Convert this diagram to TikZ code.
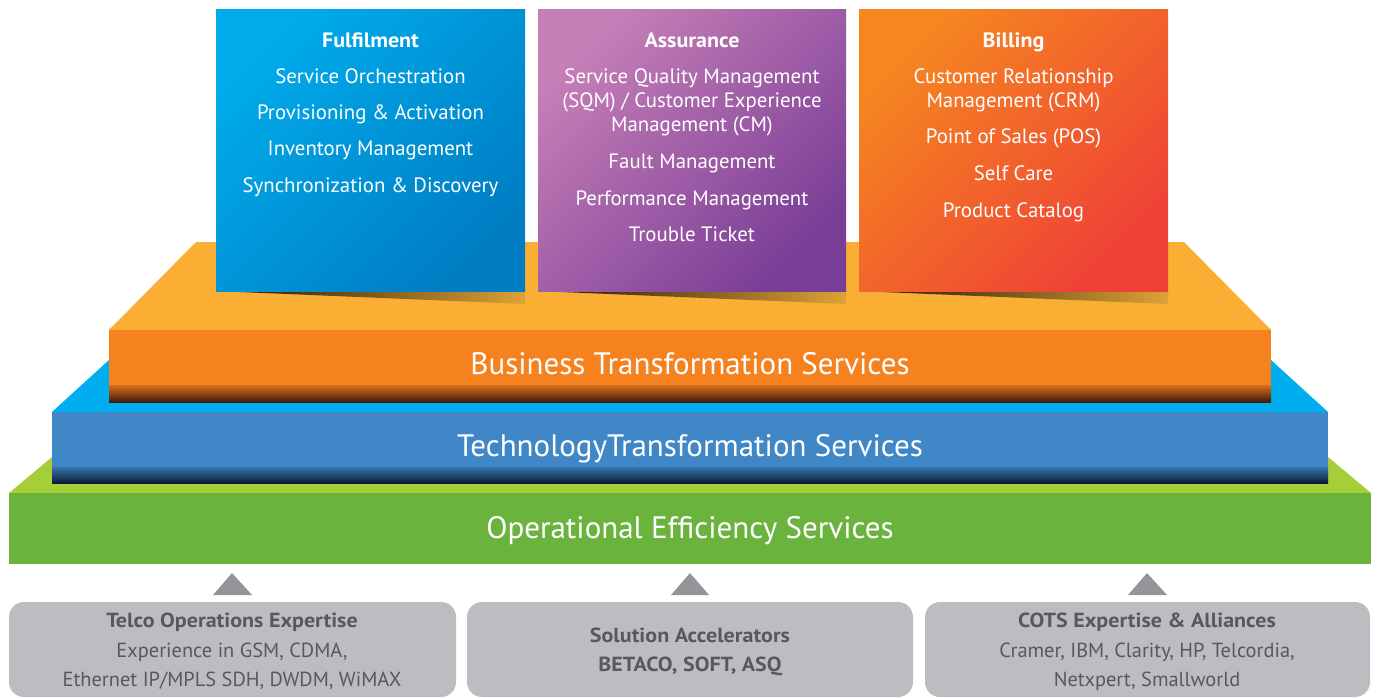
\documentclass[tikz,border=0pt]{standalone}
\usepackage{fontspec}
\setmainfont{PT Sans}
\definecolor{ortop}{HTML}{FBAE34}
\definecolor{orfront}{HTML}{F5821F}
\definecolor{orbandA}{HTML}{D86F20}
\definecolor{orbandB}{HTML}{3E1C08}
\definecolor{bltop}{HTML}{00AEEF}
\definecolor{blfront}{HTML}{4087C7}
\definecolor{blbandA}{HTML}{3775B0}
\definecolor{blbandB}{HTML}{0D1B38}
\definecolor{grtop}{HTML}{A6CE39}
\definecolor{grfront}{HTML}{6AB43E}
\definecolor{boxgray}{HTML}{BCBDC0}
\definecolor{arrgray}{HTML}{939598}
\definecolor{txtgray}{HTML}{58595B}
\definecolor{fulA}{HTML}{00ABEB}
\definecolor{fulB}{HTML}{007DC3}
\definecolor{assA}{HTML}{C57EB6}
\definecolor{assB}{HTML}{7A3E97}
\definecolor{bilA}{HTML}{F58620}
\definecolor{bilB}{HTML}{EF4136}
\definecolor{shdA}{HTML}{1E1208}
\definecolor{shdB}{HTML}{DCA235}
\begin{document}
\begin{tikzpicture}[x=1pt,y=-1pt,
  boxtxt/.style={text=white, font=\fontsize{20.8}{24}\selectfont, anchor=base, inner sep=0pt},
  boxhead/.style={boxtxt, font=\fontsize{20.8}{24}\selectfont\bfseries\addfontfeature{FakeStretch=1.06}},
  layertxt/.style={text=white, font=\fontsize{31}{36}\selectfont, anchor=base, inner sep=0pt},
  bottxt/.style={text=txtgray, font=\fontsize{20.4}{24}\selectfont, anchor=base, inner sep=0pt},
  bothead/.style={bottxt, font=\fontsize{20.4}{24}\selectfont\bfseries\addfontfeature{FakeStretch=1.08}},
  shadowwedge/.style={left color=shdA, right color=shdB},
  graybox/.style={fill=boxgray, rounded corners=15pt},
  tri/.style={fill=arrgray}]
\useasboundingbox (0,0) rectangle (1382,698);
% ---------- green layer ----------
\fill[grtop] (52,457) -- (1328,457) -- (1371,493) -- (9,493) -- cycle;
\fill[grfront] (9,493) rectangle (1371,564);
% ---------- blue layer ----------
\fill[bltop] (109,360) -- (1271,360) -- (1328,412) -- (52,412) -- cycle;
\fill[blfront] (52,412) rectangle (1328,467);
\shade[top color=blbandA, bottom color=blbandB] (52,467) rectangle (1328,483);
% ---------- orange layer ----------
\fill[ortop] (196,242) -- (1184,242) -- (1271,330) -- (109,330) -- cycle;
\fill[orfront] (109,330) rectangle (1271,385);
\shade[top color=orbandA, bottom color=orbandB] (109,385) rectangle (1271,402);
% ---------- shadows under boxes ----------
\shade[shadowwedge] (216,291) -- (525,291) -- (525,304) -- cycle;
\shade[shadowwedge] (538,291) -- (846,291) -- (846,304) -- cycle;
\shade[shadowwedge] (859,291) -- (1168,291) -- (1168,304) -- cycle;
% ---------- top boxes ----------
\shade[top color=fulA, bottom color=fulB, shading angle=45] (216,10) rectangle (525,291);
\shade[top color=assA, bottom color=assB, shading angle=45] (538,10) rectangle (846,291);
\shade[top color=bilA, bottom color=bilB, shading angle=45] (859,10) rectangle (1168,291);
% Fulfilment
\node[boxhead] (fh) at (370.5,48) {Fulfilment};
\node[boxtxt] (f1) at (370.5,84) {Service Orchestration};
\node[boxtxt] (f2) at (370.5,120) {Provisioning \& Activation};
\node[boxtxt] (f3) at (370.5,156) {Inventory Management};
\node[boxtxt] (f4) at (370.5,193) {Synchronization \& Discovery};
% Assurance
\node[boxhead] (ah) at (692,48) {Assurance};
\node[boxtxt] (a1) at (692,84) {Service Quality Management};
\node[boxtxt] (a1b) at (692,108) {(SQM) / Customer Experience};
\node[boxtxt] (a1c) at (692,132) {Management (CM)};
\node[boxtxt] (a2) at (692,168) {Fault Management};
\node[boxtxt] (a3) at (692,205) {Performance Management};
\node[boxtxt] (a4) at (692,241) {Trouble Ticket};
% Billing
\node[boxhead] (bh) at (1013.5,48) {Billing};
\node[boxtxt] (b1) at (1013.5,84) {Customer Relationship};
\node[boxtxt] (b1b) at (1013.5,108) {Management (CRM)};
\node[boxtxt] (b2) at (1013.5,144) {Point of Sales (POS)};
\node[boxtxt] (b3) at (1013.5,181) {Self Care};
\node[boxtxt] (b4) at (1013.5,217) {Product Catalog};
% ---------- layer labels ----------
\node[layertxt] (bts) at (690,374) {Business Transformation Services};
\node[layertxt] (tts) at (690,456) {TechnologyTransformation Services};
\node[layertxt] (oes) at (690,538) {Operational Efficiency Services};
% ---------- arrows ----------
\fill[tri] (232,573) -- (252,595) -- (213,595) -- cycle;
\fill[tri] (690,573) -- (709,595) -- (671,595) -- cycle;
\fill[tri] (1147,573) -- (1167,595) -- (1128,595) -- cycle;
% ---------- bottom boxes ----------
\fill[graybox] (9,602) rectangle (456,697);
\fill[graybox] (467,602) rectangle (913,697);
\fill[graybox] (925,602) rectangle (1370,697);
\node[bothead] (th) at (232,627) {Telco Operations Expertise};
\node[bottxt] (t1) at (232,657) {Experience in GSM, CDMA,};
\node[bottxt] (t2) at (232,686) {Ethernet IP/MPLS SDH, DWDM, WiMAX};
\node[bothead] (sh) at (690,642) {Solution Accelerators};
\node[bothead] (s1) at (690,671) {BETACO, SOFT, ASQ};
\node[bothead] (ch) at (1147,627) {COTS Expertise \& Alliances};
\node[bottxt] (c1) at (1147,657) {Cramer, IBM, Clarity, HP, Telcordia,};
\node[bottxt] (c2) at (1147,686) {Netxpert, Smallworld};
\end{tikzpicture}
\end{document}
